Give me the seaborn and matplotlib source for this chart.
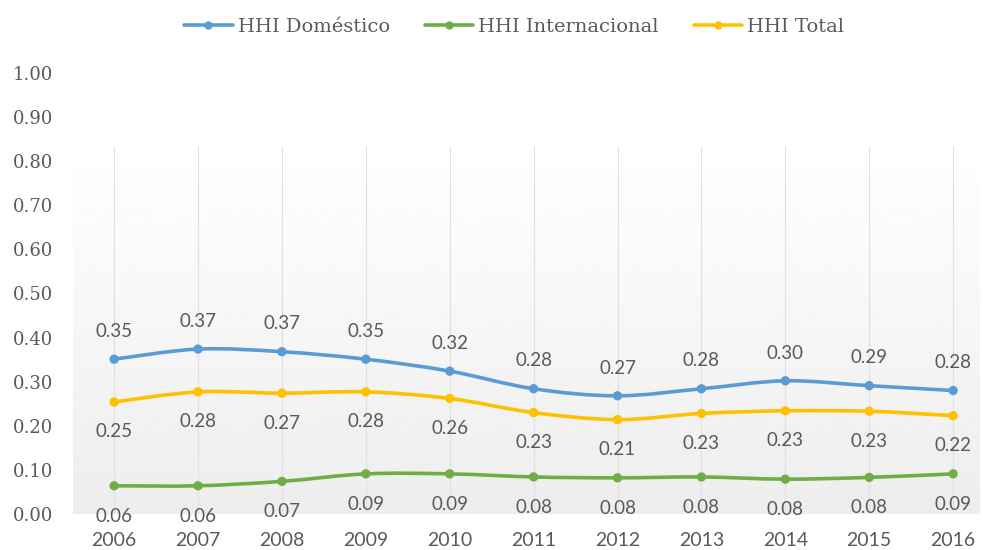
import numpy as np
import pandas as pd
import matplotlib
matplotlib.use("Agg")
import matplotlib.pyplot as plt
from matplotlib.path import Path
from matplotlib.patches import PathPatch
from matplotlib.lines import Line2D
import seaborn as sns

# ---------------- data ----------------
years = [2006, 2007, 2008, 2009, 2010, 2011, 2012, 2013, 2014, 2015, 2016]
hhi_domestico = [0.351, 0.374, 0.368, 0.351, 0.324, 0.284, 0.268, 0.284, 0.302, 0.291, 0.280]
hhi_internacional = [0.064, 0.064, 0.074, 0.091, 0.091, 0.084, 0.082, 0.084, 0.079, 0.083, 0.091]
hhi_total = [0.254, 0.277, 0.274, 0.277, 0.262, 0.230, 0.214, 0.228, 0.234, 0.233, 0.223]
series_names = ["HHI Doméstico", "HHI Internacional", "HHI Total"]
colors = ["#5B9BD5", "#70AD47", "#FFC000"]
y_ticks = [0.0, 0.1, 0.2, 0.3, 0.4, 0.5, 0.6, 0.7, 0.8, 0.9, 1.0]

series = [hhi_domestico, hhi_internacional, hhi_total]
label_offsets = [20, -22, -21.5]  # points

df = pd.DataFrame({
    "year": years * 3,
    "value": hhi_domestico + hhi_internacional + hhi_total,
    "serie": sum([[n] * len(years) for n in series_names], []),
})

sns.set_theme(style="white")
plt.rcParams["font.family"] = ["DejaVu Serif"]

fig = plt.figure(figsize=(9.83, 5.5), dpi=100)
ax = fig.add_axes([73 / 983, 36 / 550, 907 / 983, 441 / 550])
ax.set_ylim(0, 1.0)
x0, x1 = 2005.51, 2016.32
ax.set_xlim(x0, x1)

# gradient plot-area background
grad_top = 0.835
grad = np.linspace(1.0, 0.93, 256).reshape(-1, 1)
ax.imshow(grad, cmap="gray", vmin=0, vmax=1, extent=(x0, x1, 0, grad_top),
          aspect="auto", origin="upper", zorder=0, interpolation="bicubic")
ax.vlines(years, 0, grad_top, colors="#e0e0e0", linewidth=0.8, zorder=1)
ax.hlines(0, x0, x1, colors="#e4e4e4", linewidth=0.8, zorder=1)


def smooth_path(xs, ys):
    n = len(xs)
    verts = [(xs[0], ys[0])]
    codes = [Path.MOVETO]
    for i in range(n - 1):
        p0 = i - 1 if i > 0 else i
        p3 = i + 2 if i + 2 < n else i + 1
        c1 = (xs[i] + (xs[i + 1] - xs[p0]) / 6, ys[i] + (ys[i + 1] - ys[p0]) / 6)
        c2 = (xs[i + 1] - (xs[p3] - xs[i]) / 6, ys[i + 1] - (ys[p3] - ys[i]) / 6)
        verts += [c1, c2, (xs[i + 1], ys[i + 1])]
        codes += [Path.CURVE4] * 3
    return Path(verts, codes)


for vals, col in zip(series, colors):
    patch = PathPatch(smooth_path(years, vals), facecolor="none", edgecolor=col,
                      linewidth=2.6, zorder=3, capstyle="round", joinstyle="round")
    ax.add_patch(patch)

sns.scatterplot(data=df, x="year", y="value", hue="serie", palette=colors,
                hue_order=series_names, s=45, linewidth=0, legend=False,
                zorder=4, ax=ax)

for vals, off in zip(series, label_offsets):
    for x, v in zip(years, vals):
        ax.annotate(f"{v:.2f}", (x, v), xytext=(0, off), textcoords="offset points",
                    ha="center", va="center", fontsize=13.5, color="#595959",
                    family=["Lato", "DejaVu Sans"], zorder=5, annotation_clip=False)

ax.set_yticks(y_ticks)
ax.set_yticklabels([f"{t:.2f}" for t in y_ticks], fontsize=13, color="#595959",
                   family=["DejaVu Serif"])
ax.set_xticks(years)
ax.set_xticklabels([str(y) for y in years], fontsize=14, color="#595959",
                   family=["Lato", "DejaVu Sans"])
ax.tick_params(axis="y", length=0, pad=14)
ax.tick_params(axis="x", length=0, pad=13)
for s in ax.spines.values():
    s.set_visible(False)
ax.set_xlabel("")
ax.set_ylabel("")
ax.patch.set_alpha(0)

handles = [Line2D([], [], color=c, linewidth=2.6, marker="o", markersize=5) for c in colors]
fig.legend(handles, series_names, loc="center", bbox_to_anchor=(0.523, 0.951), ncol=3,
           frameon=False, handlelength=2.5, handletextpad=0.25,
           columnspacing=1.8, labelcolor="#595959", prop={"family": "DejaVu Serif", "size": 14})

fig.savefig("out.png", dpi=100)
